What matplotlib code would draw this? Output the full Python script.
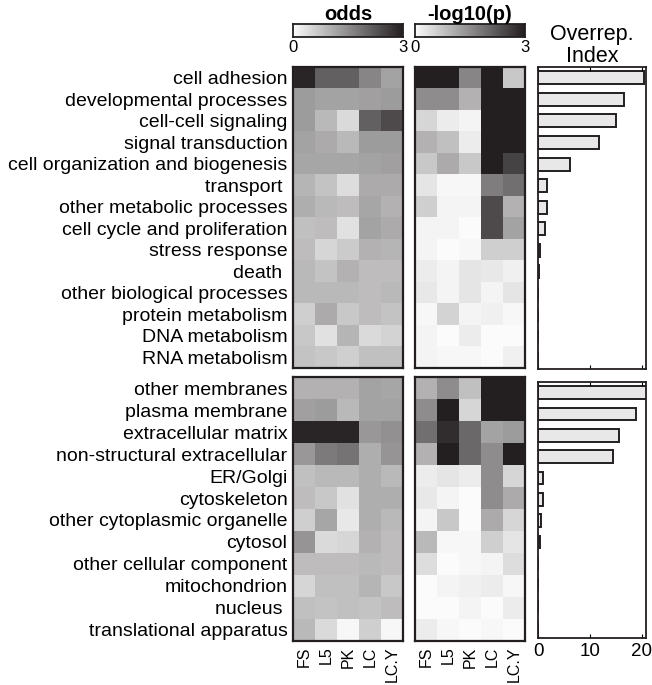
import numpy as np
import matplotlib
matplotlib.use("Agg")
import matplotlib.pyplot as plt
from matplotlib.colors import LinearSegmentedColormap

plt.rcParams['font.family'] = ['Liberation Sans', 'DejaVu Sans']

cols = ["FS", "L5", "PK", "LC", "LC.Y"]

proc_labels = ["cell adhesion", "developmental processes", "cell-cell signaling",
               "signal transduction", "cell organization and biogenesis", "transport ",
               "other metabolic processes", "cell cycle and proliferation", "stress response",
               "death ", "other biological processes", "protein metabolism",
               "DNA metabolism", "RNA metabolism"]
comp_labels = ["other membranes", "plasma membrane", "extracellular matrix",
               "non-structural extracellular", "ER/Golgi", "cytoskeleton",
               "other cytoplasmic organelle", "cytosol", "other cellular component",
               "mitochondrion", "nucleus ", "translational apparatus"]

# odds, biological process
odds_proc = [[2.9, 2.1, 2.1, 1.6, 1.2],
             [1.3, 1.2, 1.2, 1.25, 1.3],
             [1.3, 0.9, 0.45, 2.1, 2.4],
             [1.2, 1.1, 0.9, 1.3, 1.3],
             [1.15, 1.15, 1.15, 1.2, 1.25],
             [0.95, 0.75, 0.4, 1.1, 1.1],
             [1.05, 0.9, 0.85, 1.15, 1.0],
             [0.8, 0.85, 0.35, 1.2, 1.1],
             [0.85, 0.5, 0.65, 1.0, 0.95],
             [0.9, 0.75, 1.0, 0.85, 0.85],
             [0.9, 0.9, 0.9, 0.85, 0.9],
             [0.6, 1.1, 0.7, 0.85, 0.75],
             [0.7, 0.35, 0.95, 0.45, 0.55],
             [0.75, 0.7, 0.6, 0.8, 0.8]]
# odds, cellular component
odds_comp = [[1.0, 1.0, 1.0, 1.2, 1.15],
             [1.25, 1.3, 0.9, 1.2, 1.2],
             [2.9, 2.9, 2.9, 1.35, 1.45],
             [1.35, 1.75, 1.85, 1.05, 1.4],
             [0.8, 0.9, 0.9, 1.05, 0.9],
             [0.85, 0.7, 0.35, 1.05, 1.05],
             [0.6, 1.15, 0.25, 1.05, 0.9],
             [1.4, 0.45, 0.5, 1.0, 0.85],
             [0.85, 0.85, 0.85, 0.9, 0.85],
             [0.5, 0.8, 0.8, 0.95, 0.7],
             [0.8, 0.75, 0.8, 0.75, 0.85],
             [0.9, 0.45, 0.05, 0.6, 0.05]]
# -log10(p), biological process
p_proc = [[3.0, 3.0, 1.6, 3.0, 0.7],
          [1.5, 1.5, 1.0, 3.0, 3.0],
          [0.5, 0.2, 0.1, 3.0, 3.0],
          [1.0, 0.8, 0.2, 3.0, 3.0],
          [0.7, 1.1, 0.7, 3.0, 2.5],
          [0.3, 0.05, 0.05, 1.7, 1.9],
          [0.6, 0.1, 0.1, 2.4, 1.0],
          [0.1, 0.1, 0.0, 2.4, 1.2],
          [0.1, 0.0, 0.05, 0.6, 0.6],
          [0.2, 0.1, 0.3, 0.25, 0.15],
          [0.25, 0.1, 0.3, 0.1, 0.3],
          [0.05, 0.55, 0.1, 0.15, 0.05],
          [0.1, 0.0, 0.2, 0.0, 0.0],
          [0.1, 0.05, 0.05, 0.0, 0.15]]
# -log10(p), cellular component
p_comp = [[1.0, 1.5, 0.8, 3.0, 3.0],
          [1.5, 3.0, 0.5, 3.0, 3.0],
          [1.9, 2.8, 2.0, 1.2, 1.3],
          [1.0, 3.0, 2.0, 1.5, 3.0],
          [0.2, 0.3, 0.2, 1.5, 0.5],
          [0.25, 0.1, 0.0, 1.5, 1.1],
          [0.1, 0.7, 0.0, 1.1, 0.5],
          [0.9, 0.05, 0.05, 0.6, 0.3],
          [0.4, 0.0, 0.05, 0.1, 0.4],
          [0.0, 0.1, 0.15, 0.2, 0.05],
          [0.0, 0.0, 0.1, 0.0, 0.2],
          [0.2, 0.05, 0.0, 0.05, 0.0]]

overrep_proc = [20.4, 16.5, 15.0, 11.8, 6.2, 1.8, 1.7, 1.4, 0.3, 0.1, 0, 0, 0, 0]
overrep_comp = [22.0, 18.8, 15.6, 14.5, 1.0, 0.9, 0.6, 0.3, 0, 0, 0, 0]

cmap = LinearSegmentedColormap.from_list("grays", ["#fbfbfb", "#231f20"])

W, H = 652, 685
fig = plt.figure(figsize=(W / 100, H / 100), dpi=100)


def fax(x0, y0, x1, y1):
    return fig.add_axes([x0 / W, 1 - y1 / H, (x1 - x0) / W, (y1 - y0) / H])


def frame(ax, lw=1.6):
    for s in ax.spines.values():
        s.set_linewidth(lw)
        s.set_color("#231f20")


def heat(ax, data, labels=None, bottom=False):
    ax.imshow(np.array(data), cmap=cmap, vmin=0, vmax=3, aspect="auto",
              interpolation="nearest")
    ax.set_xticks([])
    ax.set_yticks([])
    if labels is not None:
        ax.set_yticks(range(len(labels)))
        ax.set_yticklabels(labels, fontsize=14)
        ax.tick_params(axis="y", length=0, pad=4)
    if bottom:
        ax.set_xticks(range(len(cols)))
        ax.set_xticklabels(cols, rotation=90, fontsize=11.5)
        ax.tick_params(axis="x", length=0, pad=4)
    frame(ax)


hx = [(293, 403), (415, 525)]
top_y = (67, 368)
bot_y = (377, 641)

ax1 = fax(hx[0][0], top_y[0], hx[0][1], top_y[1])
heat(ax1, odds_proc, proc_labels)
ax2 = fax(hx[0][0], bot_y[0], hx[0][1], bot_y[1])
heat(ax2, odds_comp, comp_labels, bottom=True)
ax3 = fax(hx[1][0], top_y[0], hx[1][1], top_y[1])
heat(ax3, p_proc)
ax4 = fax(hx[1][0], bot_y[0], hx[1][1], bot_y[1])
heat(ax4, p_comp, bottom=True)

# colorbars
grad = np.linspace(0, 3, 256)[None, :]
for (x0, x1), title in zip(hx, ["odds", "-log10(p)"]):
    cax = fax(x0, 24, x1, 37)
    cax.imshow(grad, cmap=cmap, vmin=0, vmax=3, aspect="auto",
               extent=[0, 3, 0, 1])
    cax.set_yticks([])
    cax.set_xticks([0, 3])
    cax.set_xticklabels(["0", "3"], fontsize=12)
    cax.tick_params(axis="x", length=0, pad=2)
    cax.set_title(title, fontsize=14.5, fontweight="bold", pad=3)
    frame(cax, 1.3)

# overrepresentation index bars
def bars(ax, vals, show_x):
    y = np.arange(len(vals))
    ax.barh(y, vals, height=0.6, color="#e8e8e8", edgecolor="#231f20",
            linewidth=1.4)
    ax.set_ylim(len(vals) - 0.5, -0.5)
    ax.set_xlim(0, 20.8)
    ax.set_yticks([])
    ax.set_xticks([0, 10, 20])
    ax.tick_params(axis="x", direction="in", top=True, length=3, width=0.8,
                   labelsize=13.5, labelbottom=show_x)
    frame(ax, 1.3)


bx = (538, 646)
ax5 = fax(bx[0], 67, bx[1], 369)
bars(ax5, overrep_proc, False)
ax5.set_title("Overrep.\nIndex", fontsize=15.5, pad=3, linespacing=1.05)
ax6 = fax(bx[0], 382, bx[1], 638)
bars(ax6, overrep_comp, True)

fig.savefig("out.png", dpi=100)
